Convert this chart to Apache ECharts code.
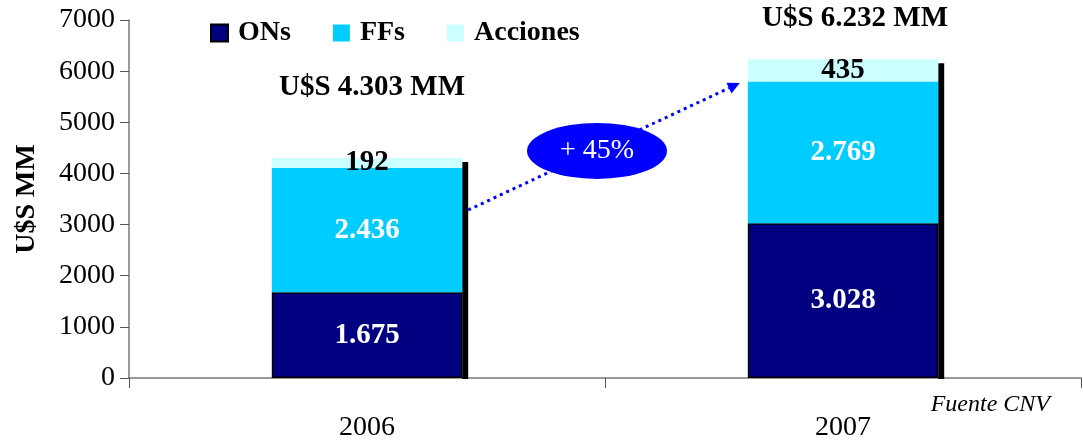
<!DOCTYPE html>
<html>
<head>
<meta charset="utf-8">
<script src="https://cdn.jsdelivr.net/npm/echarts@6/dist/echarts.min.js"></script>
<style>
  html, body { margin: 0; padding: 0; background: #fff; }
  #chart { width: 1083px; height: 441px; }
</style>
</head>
<body>
<div id="chart"></div>
<script>
// valores en U$S MM (Fuente CNV)
let years = ['2006', '2007'];
let ons = [1675, 3028];
let ffs = [2436, 2769];
let acciones = [192, 435];
let totals = [4303, 6232];
let growthLabel = '+ 45%';
let yTicks = [0, 1000, 2000, 3000, 4000, 5000, 6000, 7000];

const FONT = '"Liberation Serif", "Times New Roman", serif';

function fmt(v) {
  return String(v).replace(/\B(?=(\d{3})+(?!\d))/g, '.');
}

let chart = echarts.init(document.getElementById('chart'));

// desplazamiento de los rótulos de total (estilo, no datos)
let totalLift = [70, 41];
let totalShift = [5, 12];

let option = {
  backgroundColor: '#fff',
  animation: false,
  textStyle: { fontFamily: FONT },
  grid: { left: 129, right: 2, top: 20, bottom: 63, outerBoundsMode: 'none' },
  legend: {
    left: 205,
    top: 14,
    icon: 'rect',
    itemWidth: 17,
    itemHeight: 17,
    itemGap: 42,
    data: ['ONs', 'FFs', 'Acciones'],
    textStyle: { fontFamily: FONT, fontSize: 28, fontWeight: 'bold', color: '#000', padding: [0, 0, 0, 5] }
  },
  xAxis: {
    type: 'category',
    data: years,
    axisLine: { lineStyle: { color: '#777', width: 1.5 } },
    axisTick: { show: true, length: 10, lineStyle: { color: '#555' } },
    axisLabel: { fontFamily: FONT, fontSize: 28, color: '#000', margin: 36 }
  },
  yAxis: {
    type: 'value',
    min: yTicks[0],
    max: yTicks[yTicks.length - 1],
    interval: 1000,
    name: 'U$S MM',
    nameLocation: 'middle',
    nameRotate: 90,
    nameGap: 88,
    nameTextStyle: { fontFamily: FONT, fontSize: 28, fontWeight: 'bold', color: '#000' },
    axisLine: { show: true, lineStyle: { color: '#777', width: 1.5 } },
    axisTick: { show: true, length: 9, lineStyle: { color: '#555' } },
    splitLine: { show: false },
    axisLabel: { fontFamily: FONT, fontSize: 28, color: '#000', margin: 14, formatter: v => String(v) }
  },
  series: [
    {
      name: 'ONs',
      type: 'bar',
      stack: 'total',
      barWidth: '40%',
      data: ons,
      itemStyle: { color: '#000080', borderColor: '#000', borderWidth: 1.5 },
      label: {
        show: true, position: 'inside', formatter: p => fmt(p.value),
        fontFamily: FONT, fontSize: 29, fontWeight: 'bold', color: '#fff'
      }
    },
    {
      name: 'FFs',
      type: 'bar',
      stack: 'total',
      data: ffs,
      itemStyle: { color: '#00CCFF' },
      label: {
        show: true, position: 'inside', formatter: p => fmt(p.value),
        fontFamily: FONT, fontSize: 29, fontWeight: 'bold', color: '#fff'
      }
    },
    {
      name: 'Acciones',
      type: 'bar',
      stack: 'total',
      data: acciones,
      itemStyle: { color: '#CCFFFF' },
      label: {
        show: true, position: 'inside', formatter: p => fmt(p.value),
        fontFamily: FONT, fontSize: 29, fontWeight: 'bold', color: '#000'
      }
    },
    {
      // sombra negra a la derecha de cada columna + rótulo de total
      type: 'custom',
      data: totals.map((t, i) => [i, t]),
      encode: { x: 0, y: 1 },
      silent: true,
      z: 1,
      renderItem: function (params, api) {
        let i = api.value(0);
        let top = api.coord([i, api.value(1)]);
        let base = api.coord([i, 0]);
        let band = api.size([1, 0])[0];
        let right = top[0] + band * 0.2;
        return {
          type: 'group',
          children: [
            {
              type: 'rect',
              shape: { x: right, y: top[1] + 4, width: 6, height: base[1] - top[1] - 3 },
              style: { fill: '#000' }
            },
            {
              type: 'text',
              x: top[0] + totalShift[i],
              y: top[1] - totalLift[i],
              style: {
                text: 'U$S ' + fmt(api.value(1)) + ' MM',
                font: 'bold 29px ' + FONT,
                fill: '#000',
                align: 'center',
                verticalAlign: 'middle'
              }
            }
          ]
        };
      }
    }
  ]
};

chart.setOption(option);

// flecha punteada y elipse de crecimiento, ubicadas con las escalas del gráfico
function drawArrow() {
  let c0 = chart.convertToPixel({ xAxisIndex: 0, yAxisIndex: 0 }, [0, 3285]);
  let c1 = chart.convertToPixel({ xAxisIndex: 0, yAxisIndex: 0 }, [1, 5768]);
  let band = c1[0] - c0[0];
  let half = band * 0.2;
  let start = [c0[0] + half + 6, c0[1]];
  let end = [c1[0] - half - 8, c1[1]];
  let ang = Math.atan2(end[1] - start[1], end[0] - start[0]);
  let hl = 12, hw = 6;
  let bx = end[0] - hl * Math.cos(ang), by = end[1] - hl * Math.sin(ang);
  let head = [
    end,
    [bx - hw * Math.sin(ang), by + hw * Math.cos(ang)],
    [bx + hw * Math.sin(ang), by - hw * Math.cos(ang)]
  ];
  let mid = chart.convertToPixel({ xAxisIndex: 0, yAxisIndex: 0 }, [0, 4439]);
  let cx = (c0[0] + c1[0]) / 2 - 8;
  let cy = mid[1];
  let axisY = chart.convertToPixel({ yAxisIndex: 0 }, 0);

  chart.setOption({
    graphic: [
      {
        type: 'line',
        shape: { x1: start[0], y1: start[1], x2: bx, y2: by },
        style: { stroke: '#0000FF', lineWidth: 3, lineDash: [3, 4] },
        z: 10
      },
      {
        type: 'polygon',
        shape: { points: head },
        style: { fill: '#0000FF' },
        z: 10
      },
      {
        type: 'circle',
        x: cx,
        y: cy,
        scaleX: 2.5,
        shape: { cx: 0, cy: 0, r: 28 },
        style: { fill: '#0000FF' },
        z: 11
      },
      {
        type: 'text',
        x: cx,
        y: cy,
        style: {
          text: growthLabel,
          font: '28px ' + FONT,
          fill: '#fff',
          align: 'center',
          verticalAlign: 'middle'
        },
        z: 12
      },
      {
        type: 'text',
        right: 33,
        top: axisY + 15,
        style: {
          text: 'Fuente CNV',
          font: 'italic 24px ' + FONT,
          fill: '#000'
        },
        z: 12
      }
    ]
  });
}
drawArrow();
</script>
</body>
</html>
